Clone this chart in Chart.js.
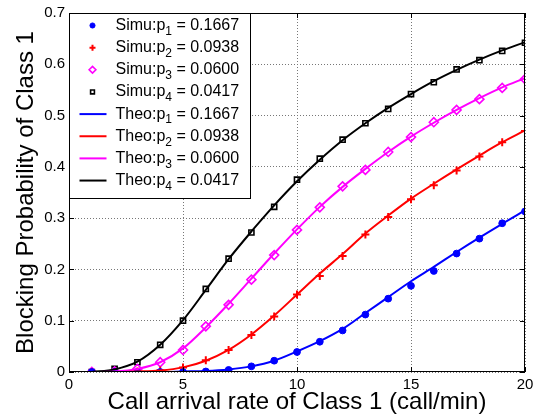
<!DOCTYPE html>
<html>
<head>
<meta charset="utf-8">
<title>Blocking probability of class 1</title>
<script src="https://cdn.jsdelivr.net/npm/chart.js@4/dist/chart.umd.min.js"></script>
<style>
  body { margin: 0; background: #fff; }
  #wrap { width: 541px; height: 420px; }
</style>
</head>
<body>
<div id="wrap"><canvas id="chartCanvas" width="541" height="420"></canvas></div>
<script>
// call arrival rate of class 1 (call/min)
const rates = [1, 2, 3, 4, 5, 6, 7, 8, 9, 10, 11, 12, 13, 14, 15, 16, 17, 18, 19, 20];
const xTicks = [0, 5, 10, 15, 20];
const yTicks = [0, 0.1, 0.2, 0.3, 0.4, 0.5, 0.6, 0.7];
const probs = ['0.1667', '0.0938', '0.0600', '0.0417'];

// simulation results
const simP1 = [0, 0, 0, 0, 0, 0.001, 0.004, 0.011, 0.022, 0.039, 0.059, 0.081, 0.112, 0.143, 0.168, 0.197, 0.231, 0.260, 0.290, 0.313];
const simP2 = [0, 0, 0.001, 0.003, 0.009, 0.023, 0.043, 0.072, 0.108, 0.151, 0.187, 0.226, 0.268, 0.302, 0.337, 0.364, 0.393, 0.420, 0.448, 0.470];
const simP3 = [0, 0.001, 0.006, 0.019, 0.043, 0.089, 0.131, 0.180, 0.228, 0.277, 0.321, 0.362, 0.394, 0.429, 0.458, 0.487, 0.511, 0.532, 0.554, 0.571];
const simP4 = [0, 0.006, 0.019, 0.053, 0.100, 0.162, 0.221, 0.272, 0.322, 0.375, 0.416, 0.453, 0.485, 0.513, 0.542, 0.565, 0.590, 0.608, 0.626, 0.642];

// theoretical results
const theoP1 = [0, 0, 0, 0, 0.001, 0.002, 0.005, 0.011, 0.022, 0.040, 0.060, 0.084, 0.115, 0.146, 0.177, 0.205, 0.234, 0.262, 0.289, 0.315];
const theoP2 = [0, 0, 0.001, 0.003, 0.009, 0.022, 0.043, 0.073, 0.110, 0.151, 0.192, 0.230, 0.270, 0.305, 0.338, 0.367, 0.395, 0.422, 0.448, 0.471];
const theoP3 = [0, 0.001, 0.006, 0.019, 0.046, 0.087, 0.133, 0.182, 0.231, 0.278, 0.322, 0.361, 0.396, 0.429, 0.459, 0.486, 0.511, 0.534, 0.555, 0.573];
const theoP4 = [0, 0.005, 0.020, 0.053, 0.101, 0.160, 0.220, 0.274, 0.325, 0.372, 0.414, 0.452, 0.485, 0.515, 0.542, 0.567, 0.589, 0.609, 0.627, 0.643];

const colors = ['#0000ff', '#ff0000', '#ff00ff', '#000000'];
const family = "'Liberation Sans', Arial, Helvetica, sans-serif";

Chart.defaults.font.family = family;
Chart.defaults.color = '#000';

function pts(ys) {
    return rates.map((r, i) => ({ x: r, y: ys[i] }));
}

// marker styles for the simulation points
const simStyles = [
    { pointStyle: 'circle', radius: 3.4, borderWidth: 1, fill: colors[0] },
    { pointStyle: 'cross', radius: 4, borderWidth: 2, fill: 'transparent' },
    { pointStyle: 'rectRot', radius: 4.5, borderWidth: 1.6, fill: 'transparent' },
    { pointStyle: 'rect', radius: 3.6, borderWidth: 1.6, fill: 'transparent' }
];

const simSets = [simP1, simP2, simP3, simP4].map((ys, i) => ({
    label: 'Simu:p' + (i + 1) + ' = ' + probs[i],
    data: pts(ys),
    showLine: false,
    order: 1,
    pointStyle: simStyles[i].pointStyle,
    pointRadius: simStyles[i].radius,
    pointBorderWidth: simStyles[i].borderWidth,
    pointBorderColor: colors[i],
    pointBackgroundColor: simStyles[i].fill
}));

const theoSets = [theoP1, theoP2, theoP3, theoP4].map((ys, i) => ({
    label: 'Theo:p' + (i + 1) + ' = ' + probs[i],
    data: pts(ys),
    showLine: true,
    order: 0,
    borderColor: colors[i],
    borderWidth: 2,
    pointRadius: 0,
    cubicInterpolationMode: 'monotone'
}));

// matlab style box, inward ticks and legend
const matlabAxes = {
    id: 'matlabAxes',
    afterDatasetsDraw(chart) {
        const { ctx, chartArea: a, scales: { x, y } } = chart;
        ctx.save();
        ctx.strokeStyle = '#000';
        ctx.lineWidth = 1;
        ctx.beginPath();
        xTicks.forEach(v => {
            const px = Math.round(x.getPixelForValue(v)) + 0.5;
            ctx.moveTo(px, a.bottom); ctx.lineTo(px, a.bottom - 5);
            ctx.moveTo(px, a.top); ctx.lineTo(px, a.top + 5);
        });
        yTicks.forEach(v => {
            const py = Math.round(y.getPixelForValue(v)) + 0.5;
            ctx.moveTo(a.left, py); ctx.lineTo(a.left + 5, py);
            ctx.moveTo(a.right, py); ctx.lineTo(a.right - 5, py);
        });
        ctx.stroke();
        ctx.strokeRect(Math.round(a.left) + 0.5, Math.round(a.top) + 0.5,
            Math.round(a.width) - 1, Math.round(a.height) - 1);

        // legend box
        const lx = Math.round(a.left) + 0.5, ly = Math.round(a.top) + 0.5;
        const lw = 181, lh = 185, row = 22.15;
        ctx.fillStyle = '#fff';
        ctx.fillRect(lx, ly, lw, lh);
        ctx.strokeRect(lx, ly, lw, lh);

        for (let k = 0; k < 8; k++) {
            const i = k % 4;
            const ry = ly + 12 + k * row;
            if (k < 4) {
                const s = simStyles[i];
                ctx.fillStyle = s.fill;
                ctx.strokeStyle = colors[i];
                ctx.lineWidth = s.borderWidth;
                Chart.helpers.drawPoint(ctx, {
                    pointStyle: s.pointStyle,
                    rotation: 0,
                    radius: s.radius * 0.75,
                    borderWidth: s.borderWidth
                }, lx + 23, ry);
            } else {
                ctx.strokeStyle = colors[i];
                ctx.lineWidth = 2;
                ctx.beginPath();
                ctx.moveTo(lx + 10, ry);
                ctx.lineTo(lx + 37, ry);
                ctx.stroke();
            }
            ctx.fillStyle = '#000';
            ctx.textBaseline = 'middle';
            ctx.textAlign = 'left';
            const head = (k < 4 ? 'Simu' : 'Theo') + ':p';
            let tx = lx + 46;
            ctx.font = '16px ' + family;
            ctx.fillText(head, tx, ry);
            tx += ctx.measureText(head).width;
            ctx.font = '12px ' + family;
            ctx.fillText(String(i + 1), tx, ry + 6);
            tx += ctx.measureText(String(i + 1)).width;
            ctx.font = '16px ' + family;
            ctx.fillText(' = ' + probs[i], tx, ry);
        }
        ctx.restore();
    }
};

const ctx = document.getElementById('chartCanvas').getContext('2d');
new Chart(ctx, {
    type: 'scatter',
    data: { datasets: simSets.concat(theoSets) },
    options: {
        responsive: false,
        animation: false,
        layout: { padding: { top: 13, right: 16, left: 0, bottom: 0 } },
        plugins: {
            legend: { display: false },
            tooltip: { enabled: false }
        },
        scales: {
            x: {
                type: 'linear',
                min: 0,
                max: 20,
                afterBuildTicks: s => { s.ticks = xTicks.map(v => ({ value: v })); },
                afterFit: s => { s.height = 48; },
                grid: {
                    color: '#777',
                    drawTicks: false
                },
                border: { display: false, dash: [1, 2] },
                ticks: {
                    padding: 4,
                    maxRotation: 0,
                    font: { size: 15 },
                    callback: v => String(v)
                },
                title: {
                    display: true,
                    text: 'Call arrival rate of Class 1 (call/min)',
                    font: { size: 24 },
                    padding: { top: 0, bottom: 3 }
                }
            },
            y: {
                type: 'linear',
                min: 0,
                max: 0.7,
                afterBuildTicks: s => { s.ticks = yTicks.map(v => ({ value: v })); },
                afterFit: s => { s.width = 69; },
                grid: {
                    color: '#777',
                    drawTicks: false
                },
                border: { display: false, dash: [1, 2] },
                ticks: {
                    padding: 4,
                    font: { size: 15 },
                    callback: v => (v === 0 ? '0' : v.toFixed(1))
                },
                title: {
                    display: true,
                    text: 'Blocking Probability of Class 1',
                    font: { size: 24 },
                    padding: { top: 12, bottom: 0 }
                }
            }
        }
    },
    plugins: [matlabAxes]
});
</script>
</body>
</html>
